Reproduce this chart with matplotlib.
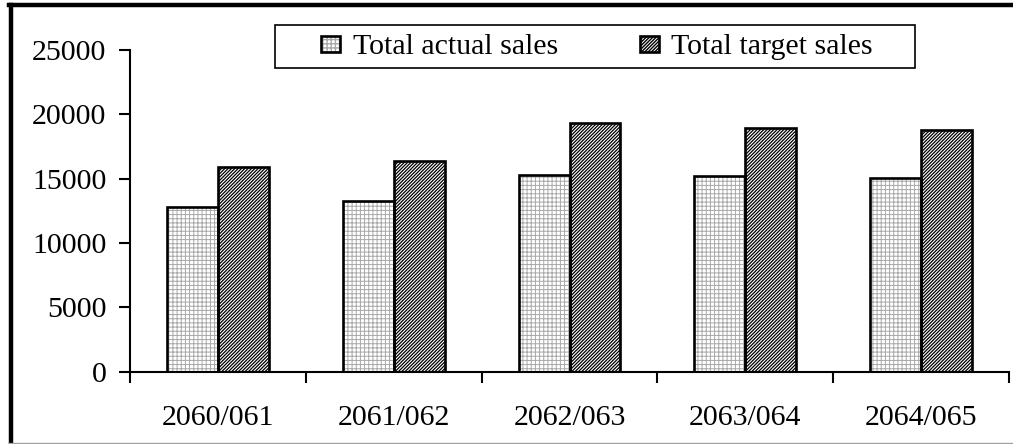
import matplotlib
matplotlib.use("Agg")
import matplotlib.pyplot as plt
import matplotlib.patches as mpatches
from matplotlib.legend_handler import HandlerTuple
import numpy as np

# Sales by fiscal year
years = ["2060/061", "2061/062", "2062/063", "2063/064", "2064/065"]
actual_sales = [12780, 13260, 15290, 15210, 15030]
target_sales = [15880, 16400, 19300, 18940, 18780]
y_ticks = [0, 5000, 10000, 15000, 20000, 25000]

plt.rcParams["font.family"] = ["Liberation Serif", "DejaVu Serif"]
plt.rcParams["font.size"] = 21.5

W, H = 1013, 444
fig = plt.figure(figsize=(W / 100, H / 100), dpi=100)
ax = fig.add_axes([130 / W, 1 - 371.7 / H, (1009 - 130) / W, (371.7 - 50) / H])

x = np.arange(len(years))
bw = 0.29
edge_lw = 1.9

# grid-filled actual bars: gray hatch layer, then black outline
with plt.rc_context({"hatch.linewidth": 0.7}):
    a_fill = ax.bar(x - bw / 2, actual_sales, bw, color="white", edgecolor="#a8a8a8",
                    hatch="++++", linewidth=0, zorder=2)
a_edge = ax.bar(x - bw / 2, actual_sales, bw, fill=False, edgecolor="black",
                linewidth=edge_lw, zorder=3)
# diagonal-hatched target bars
with plt.rc_context({"hatch.linewidth": 0.9}):
    t_fill = ax.bar(x + bw / 2, target_sales, bw, color="white", edgecolor="black",
                    hatch="//////////", linewidth=0, zorder=2)
t_edge = ax.bar(x + bw / 2, target_sales, bw, fill=False, edgecolor="black",
                linewidth=edge_lw, zorder=3)

ax.set_xlim(-0.5, len(years) - 0.5)
ax.set_ylim(0, 25000)
ax.set_yticks(y_ticks)
ax.set_yticklabels([str(v) for v in y_ticks])
ax.set_xticks(np.arange(len(years) + 1) - 0.5)
ax.set_xticklabels([])
ax.set_xticks(x, minor=True)
ax.set_xticklabels(years, minor=True)
ax.tick_params(axis="x", which="minor", length=0, pad=24)
ax.tick_params(axis="x", which="major", length=8, width=1.5, direction="out")
ax.tick_params(axis="y", length=8, width=1.5, direction="out", pad=9)

for s in ["top", "right"]:
    ax.spines[s].set_visible(False)
for s in ["left", "bottom"]:
    ax.spines[s].set_linewidth(1.5)

# legend with a separate rectangular frame
leg = fig.legend(
    [(a_fill[0], a_edge[0]), (t_fill[0], t_edge[0])],
    ["Total actual sales", "Total target sales"],
    handler_map={tuple: HandlerTuple(ndivide=1, pad=0)},
    loc="center", bbox_to_anchor=(597 / W, 1 - 47.5 / H),
    ncol=2, frameon=False, handlelength=0.63, handleheight=0.45,
    handletextpad=0.42, columnspacing=2.75, borderpad=0.0,
)
fig.patches.append(mpatches.Rectangle((275 / W, 1 - 68 / H), (915 - 275) / W, 43 / H,
                                      transform=fig.transFigure, fill=False,
                                      edgecolor="black", linewidth=1.2))

# outer figure border: heavy left/top, thin gray bottom
fig.add_artist(plt.Line2D([10.5 / W, 10.5 / W], [1 - 442.5 / H, 1 - 5 / H],
                          transform=fig.transFigure, color="black", linewidth=3.2))
fig.add_artist(plt.Line2D([9 / W, 1.0], [1 - 5 / H, 1 - 5 / H],
                          transform=fig.transFigure, color="black", linewidth=3.2))
fig.add_artist(plt.Line2D([9 / W, 1.0], [1 - 442.7 / H, 1 - 442.7 / H],
                          transform=fig.transFigure, color="#a0a0a0", linewidth=1.0))

fig.savefig("out.png", dpi=100)
